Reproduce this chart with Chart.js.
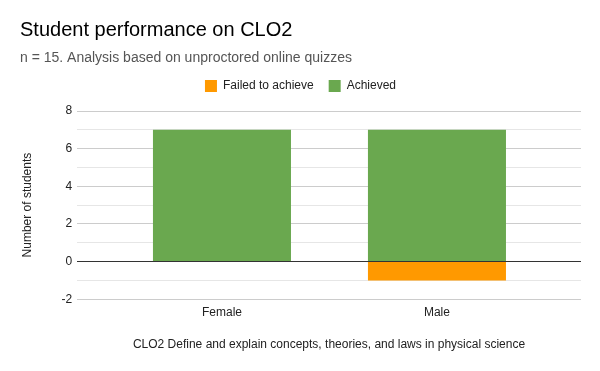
<!DOCTYPE html>
<html>
<head>
<meta charset="utf-8">
<script src="https://cdn.jsdelivr.net/npm/chart.js@4"></script>
<style>
  html, body { margin: 0; padding: 0; background: #fff; }
  #wrap { width: 600px; height: 371px; }
</style>
</head>
<body>
<div id="wrap"><canvas id="chart"></canvas></div>
<script>
const categories = ["Female", "Male"];
const failed = [0, -1];
const achieved = [7, 7];
const yTicks = [-2, 0, 2, 4, 6, 8];

const FONT = "'Liberation Sans', Arial, sans-serif";

// a bit of extra room under the legend
const legendGap = {
  id: "legendGap",
  beforeInit(chart) {
    const fit = chart.legend.fit;
    chart.legend.fit = function () {
      fit.bind(chart.legend)();
      this.height += 9;
    };
  }
};

const ctx = document.getElementById("chart").getContext("2d");

new Chart(ctx, {
  type: "bar",
  data: {
    labels: categories.map((_, i) => i),
    datasets: [
      {
        label: "Failed to achieve",
        data: failed,
        backgroundColor: "#ff9900",
        categoryPercentage: 1,
        barPercentage: 0.642
      },
      {
        label: "Achieved",
        data: achieved,
        backgroundColor: "#6aa84f",
        categoryPercentage: 1,
        barPercentage: 0.642
      }
    ]
  },
  options: {
    responsive: true,
    maintainAspectRatio: false,
    animation: false,
    layout: { padding: { left: 20, right: 19, top: 12, bottom: 19 } },
    plugins: {
      title: {
        display: true,
        text: "Student performance on CLO2",
        align: "start",
        color: "#000",
        font: { family: FONT, size: 20, weight: "normal", lineHeight: 1.2 },
        padding: { top: 6, bottom: 9 }
      },
      subtitle: {
        display: true,
        text: "n = 15. Analysis based on unproctored online quizzes",
        align: "start",
        color: "#555",
        font: { family: FONT, size: 14, lineHeight: 1 },
        padding: { top: 0, bottom: 0 }
      },
      legend: {
        position: "top",
        labels: {
          color: "#222",
          font: { family: FONT, size: 12 },
          boxWidth: 12,
          boxHeight: 12,
          padding: 15
        }
      },
      tooltip: { enabled: false }
    },
    scales: {
      x: {
        type: "linear",
        stacked: true,
        offset: false,
        min: -0.674,
        max: 1.67,
        afterBuildTicks: (axis) => {
          axis.ticks = categories.map((_, i) => ({ value: i }));
        },
        ticks: {
          color: "#222",
          font: { family: FONT, size: 12 },
          padding: 6,
          autoSkip: false,
          maxRotation: 0,
          callback: (v) => categories[v]
        },
        grid: { display: false, drawTicks: false },
        border: { display: false },
        title: {
          display: true,
          text: "CLO2 Define and explain concepts, theories, and laws in physical science",
          color: "#222",
          font: { family: FONT, size: 12 },
          padding: { top: 12, bottom: 0 }
        }
      },
      y: {
        stacked: true,
        min: yTicks[0],
        max: yTicks[yTicks.length - 1],
        ticks: {
          stepSize: 1,
          color: "#222",
          font: { family: FONT, size: 12 },
          padding: 5,
          callback: (v) => (yTicks.includes(v) ? v : "")
        },
        grid: {
          drawTicks: false,
          color: (c) => {
            const v = c.tick.value;
            if (v === 0) return "#333333";
            return yTicks.includes(v) ? "#cccccc" : "#e6e6e6";
          },
          lineWidth: 1
        },
        border: { display: false },
        title: {
          display: true,
          text: "Number of students",
          color: "#222",
          font: { family: FONT, size: 12 },
          padding: { top: 0, bottom: 22 }
        }
      }
    }
  },
  plugins: [legendGap]
});
</script>
</body>
</html>
